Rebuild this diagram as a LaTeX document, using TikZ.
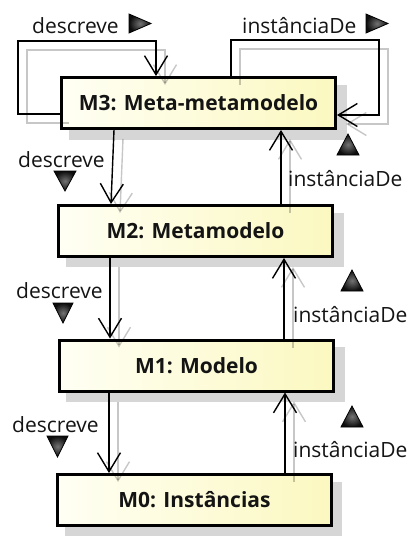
\documentclass[tikz,border=0pt]{standalone}
\usepackage{fontspec}
\setmainfont{Open Sans}
\usetikzlibrary{arrows.meta}

\definecolor{boxlight}{RGB}{255,255,244}
\definecolor{boxyellow}{RGB}{251,248,192}
\definecolor{inkcol}{RGB}{20,20,20}

\tikzset{
  level/.style={draw=black, line width=3pt, left color=boxlight, right color=boxyellow,
    minimum width=274pt, minimum height=51pt, inner sep=0pt,
    font=\fontsize{21}{25}\selectfont\bfseries, text=inkcol},
  levelshadow/.style={fill=black!16, draw=none},
  link/.style={draw=black, line width=1.4pt, -{Straight Barb[length=19pt,width=23pt]}},
  linkshadow/.style={draw=black, draw opacity=0.22, line width=1.4pt,
    -{Straight Barb[length=19pt,width=23pt]}},
  tag/.style={anchor=base west, inner sep=0pt, font=\fontsize{21}{25}\selectfont, text=inkcol},
  marker/.style={inner color=black!55, outer color=black!95, draw=black, line width=0.8pt}
}

% every association between the levels, drawn with the given style
\newcommand\drawlinks[1]{%
  \draw[#1] ([yshift=-11pt]m3.west) -| (lc) -| ([xshift=-42.5pt]m3.north);
  \draw[#1] ([xshift=32.5pt]m3.north) |- (rc) |- ([yshift=-12pt]m3.east);
  \draw[#1] ([xshift=-84.5pt]m3.south) -- ([xshift=-84.5pt]m2.north);
  \draw[#1] ([xshift=85.5pt]m2.north) -- ([xshift=82.5pt]m3.south);
  \draw[#1] ([xshift=-85.5pt]m2.south) -- ([xshift=-86.5pt]m1.north);
  \draw[#1] ([xshift=87.5pt]m1.north) -- ([xshift=88.5pt]m2.south);
  \draw[#1] ([xshift=-87.5pt]m1.south) -- ([xshift=-85.5pt]m0.north);
  \draw[#1] ([xshift=90.5pt]m0.north) -- ([xshift=88.5pt]m1.south);
}

\begin{document}
\begin{tikzpicture}[x=1pt, y=-1pt]
  \useasboundingbox (0,0) rectangle (412,536);

  % drop shadows of the level boxes
  \fill[levelshadow] (69,85) rectangle (347,140);
  \fill[levelshadow] (66,213) rectangle (344,267);
  \fill[levelshadow] (66,347) rectangle (345,402);
  \fill[levelshadow] (65,482) rectangle (342,536);

  % the four modelling levels
  \node[level] (m3) at (198.5,103) {M3: Meta-metamodelo};
  \node[level] (m2) at (195.5,231) {M2: Metamodelo};
  \node[level] (m1) at (196.5,365.5) {M1: Modelo};
  \node[level] (m0) at (194.5,500) {M0: Instâncias};

  % corners of the two self-associations of M3
  \coordinate (lc) at (18,41);
  \coordinate (rc) at (379,40);

  % shadows of the associations, then the associations
  \begin{scope}[transform canvas={shift={(9pt,-9pt)}}]
    \drawlinks{linkshadow}
  \end{scope}
  \drawlinks{link}

  % association names
  \node[tag] (d3) at (32,33) {descreve};
  \node[tag] (i3) at (242,33) {instânciaDe};
  \node[tag] (d32) at (18,167) {descreve};
  \node[tag] (i23) at (288,186) {instânciaDe};
  \node[tag] (d21) at (16,298) {descreve};
  \node[tag] (i12) at (293,322) {instânciaDe};
  \node[tag] (d10) at (12,432) {descreve};
  \node[tag] (i01) at (293,457) {instânciaDe};

  % reading-direction markers
  \path[marker] (129,14) -- (129,33) -- (151,23.5) -- cycle;
  \path[marker] (366,14) -- (366,33) -- (388,23.5) -- cycle;
  \path[marker] (337,155) -- (359,155) -- (348,134) -- cycle;
  \path[marker] (54,171) -- (76,171) -- (65,191) -- cycle;
  \path[marker] (341,291) -- (363,291) -- (352,270) -- cycle;
  \path[marker] (53,303) -- (73,303) -- (63,323) -- cycle;
  \path[marker] (341,427) -- (363,427) -- (352,406) -- cycle;
  \path[marker] (47,436) -- (68,436) -- (57.5,457) -- cycle;
\end{tikzpicture}
\end{document}
